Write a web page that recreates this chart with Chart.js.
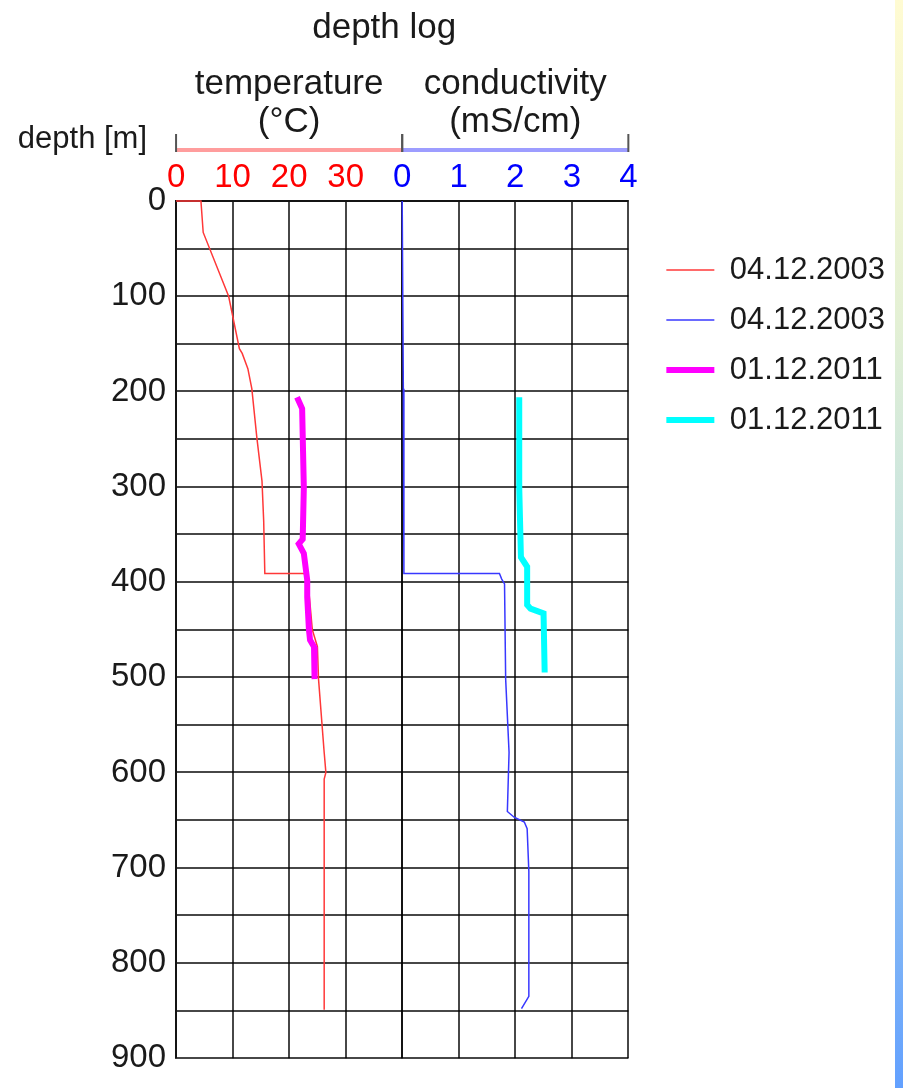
<!DOCTYPE html>
<html>
<head>
<meta charset="utf-8">
<title>depth log</title>
<script src="https://cdn.jsdelivr.net/npm/chart.js@4.4.1/dist/chart.umd.min.js"></script>
<style>
  html, body { margin: 0; padding: 0; background: #fff; overflow: hidden; }
  #wrap { position: absolute; left: 0; top: 0; width: 895px; height: 1088px; }
  #strip { position: absolute; left: 895px; top: 0; width: 8px; height: 1088px;
    background: linear-gradient(#fffbd2, #e3f0d5 30%, #b8dce6 60%, #62a0ff); }
</style>
</head>
<body>
<div id="wrap"><canvas id="logChart"></canvas></div>
<div id="strip"></div>
<script>
// =================== DATA ===================
const chartTitle = "depth log";
const depthTitle = "depth [m]";
const tempTitle = ["temperature", "(°C)"];
const condTitle = ["conductivity", "(mS/cm)"];
const legendLabels = ["04.12.2003", "04.12.2003", "01.12.2011", "01.12.2011"];

// temperature 04.12.2003
const tempDepth2003 = [0, 0, 33, 100, 155, 160, 176, 197, 249, 294, 336, 391, 391, 397, 450, 468, 502, 579, 600, 607, 849];
const temp2003 = [0, 4.4, 4.8, 9.3, 11.2, 11.7, 12.7, 13.4, 14.3, 15.2, 15.5, 15.7, 22.6, 23.3, 24.1, 25.0, 25.2, 26.2, 26.5, 26.2, 26.2];

// conductivity 04.12.2003
const condDepth2003 = [0, 197, 391, 391, 397, 402, 502, 579, 641, 647, 652, 659, 704, 835, 848];
const cond2003 = [0, 0.02, 0.03, 1.72, 1.76, 1.81, 1.83, 1.89, 1.86, 1.98, 2.16, 2.21, 2.24, 2.24, 2.11];

// temperature 01.12.2011
const tempDepth2011 = [206, 218, 301, 355, 360, 370, 398, 416, 450, 461, 468, 502];
const temp2011 = [21.4, 22.3, 22.6, 22.4, 21.7, 22.6, 23.2, 23.2, 23.5, 23.7, 24.4, 24.5];

// conductivity 01.12.2011
const condDepth2011 = [206, 301, 374, 384, 424, 428, 433, 495];
const cond2011 = [2.07, 2.07, 2.10, 2.21, 2.21, 2.27, 2.50, 2.52];

const depthMax = 900;
const tempMax = 40;
const condMax = 4;

const toPoints = (xs, ys) => xs.map((v, i) => ({ x: v, y: ys[i] }));

// =================== STYLE ===================
Chart.defaults.font.family = '"Liberation Sans", Arial, sans-serif';
Chart.defaults.color = "#1a1a1a";
const gridColor = "rgba(0,0,0,0.72)";

// header bits: title, depth label, coloured axis bars
const headerDecor = {
  id: "headerDecor",
  afterDraw(chart) {
    const { ctx, chartArea, scales } = chart;
    ctx.save();
    ctx.fillStyle = "#1a1a1a";
    ctx.textBaseline = "middle";
    ctx.textAlign = "center";
    ctx.font = '35px "Liberation Sans", Arial, sans-serif';
    ctx.fillText(chartTitle, (chartArea.left + chartArea.right) / 2 - 18, 28);
    ctx.textAlign = "right";
    ctx.font = '31px "Liberation Sans", Arial, sans-serif';
    ctx.fillText(depthTitle, chartArea.left - 29, 139);

    [["xT", "rgba(255,60,60,0.5)"], ["xC", "rgba(60,60,255,0.5)"]].forEach(([id, color]) => {
      const s = scales[id];
      ctx.fillStyle = color;
      ctx.fillRect(s.left, 148, s.right - s.left, 4);
      ctx.strokeStyle = "#555";
      ctx.lineWidth = 2;
      ctx.beginPath();
      ctx.moveTo(s.left, 134);
      ctx.lineTo(s.left, 152);
      ctx.moveTo(s.right, 134);
      ctx.lineTo(s.right, 152);
      ctx.stroke();
    });
    ctx.restore();
  },
};

// =================== CHART ===================
const ctx = document.getElementById("logChart");

new Chart(ctx, {
  type: "line",
  data: {
    datasets: [
      {
        label: legendLabels[0],
        data: toPoints(temp2003, tempDepth2003),
        xAxisID: "xT",
        yAxisID: "y",
        borderColor: "#ff3838",
        backgroundColor: "#ff3838",
        borderWidth: 1.5,
        clip: 3,
        order: 3,
      },
      {
        label: legendLabels[1],
        data: toPoints(cond2003, condDepth2003),
        xAxisID: "xC",
        yAxisID: "y",
        borderColor: "#3838ff",
        backgroundColor: "#3838ff",
        borderWidth: 1.5,
        clip: 3,
        order: 3,
      },
      {
        label: legendLabels[2],
        data: toPoints(temp2011, tempDepth2011),
        xAxisID: "xT",
        yAxisID: "y",
        borderColor: "#ff00ff",
        backgroundColor: "#ff00ff",
        borderWidth: 6,
        order: 1,
      },
      {
        label: legendLabels[3],
        data: toPoints(cond2011, condDepth2011),
        xAxisID: "xC",
        yAxisID: "y",
        borderColor: "#00ffff",
        backgroundColor: "#00ffff",
        borderWidth: 6,
        order: 1,
      },
    ],
  },
  options: {
    responsive: true,
    maintainAspectRatio: false,
    animation: false,
    devicePixelRatio: 1,
    elements: { point: { radius: 0 }, line: { tension: 0 } },
    layout: { padding: { left: 101, top: 65, right: 0, bottom: 23 } },
    plugins: {
      tooltip: { enabled: false },
      title: { display: false },
      legend: {
        position: "right",
        align: "start",
        fullSize: false,
        maxWidth: 300,
        title: { display: true, text: "", font: { size: 12, lineHeight: 1 }, padding: { top: 22.5, bottom: 0 } },
        labels: {
          usePointStyle: true,
          pointStyle: "line",
          pointStyleWidth: 48,
          padding: 19,
          color: "#1a1a1a",
          font: { size: 31 },
          sort: (a, b) => a.datasetIndex - b.datasetIndex,
        },
      },
    },
    scales: {
      xT: {
        type: "linear",
        position: "top",
        stack: "top",
        weight: 1,
        min: 0,
        max: tempMax,
        title: {
          display: true,
          text: tempTitle,
          color: "#1a1a1a",
          font: { size: 35, lineHeight: "38px" },
          padding: { top: 0, bottom: 14.4 },
        },
        ticks: {
          stepSize: 10,
          autoSkip: false,
          maxRotation: 0,
          padding: 3,
          color: "#ff0000",
          font: { size: 33 },
          callback: (v) => (v === tempMax ? "" : v),
        },
        grid: { color: gridColor, lineWidth: 2, drawTicks: false },
        border: { color: gridColor, width: 2 },
      },
      xC: {
        type: "linear",
        position: "top",
        stack: "top",
        weight: 0,
        min: 0,
        max: condMax,
        title: {
          display: true,
          text: condTitle,
          color: "#1a1a1a",
          font: { size: 35, lineHeight: "38px" },
          padding: { top: 0, bottom: 14.4 },
        },
        ticks: {
          stepSize: 1,
          autoSkip: false,
          maxRotation: 0,
          padding: 3,
          color: "#0000ff",
          font: { size: 33 },
        },
        grid: { color: gridColor, lineWidth: 2, drawTicks: false },
        border: { color: gridColor, width: 2 },
      },
      y: {
        type: "linear",
        position: "left",
        reverse: true,
        min: 0,
        max: depthMax,
        ticks: {
          stepSize: 50,
          autoSkip: false,
          padding: 10,
          color: "#1a1a1a",
          font: { size: 33 },
          callback: (v) => (v % 100 === 0 ? v : ""),
        },
        grid: { color: gridColor, lineWidth: 2, drawTicks: false },
        border: { color: gridColor, width: 2 },
      },
      // spacer between plot and legend
      gap: {
        type: "linear",
        position: "right",
        display: true,
        ticks: { display: false },
        grid: { display: false, drawTicks: false },
        border: { display: false },
        afterFit: (s) => {
          s.width = 19;
        },
      },
    },
  },
  plugins: [headerDecor],
});
</script>
</body>
</html>
